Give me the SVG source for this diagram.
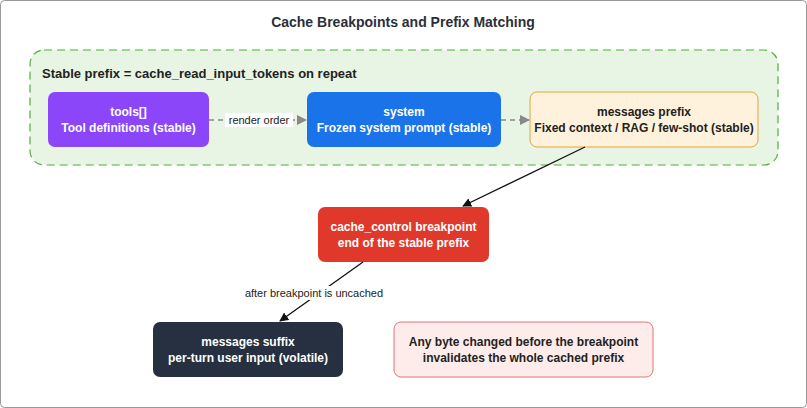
<svg xmlns="http://www.w3.org/2000/svg" width="807" height="408" viewBox="0 0 807 408">
<style>
text{font-family:"Helvetica","Liberation Sans",Arial,sans-serif;font-size:12px;font-weight:bold;text-anchor:middle}
.w{fill:#fff}
.d{fill:#222}
.lbl{font-weight:normal;font-size:11px;fill:#222}
.dash{stroke:#888;stroke-width:1.5;stroke-dasharray:5,4;fill:none}
.solid{stroke:#111;stroke-width:1.3;fill:none}
</style>
<defs>
<marker id="ag" viewBox="0 0 10 10" refX="9" refY="5" markerWidth="7" markerHeight="7" orient="auto"><path d="M0,0L10,5L0,10z" fill="#888"/></marker>
<marker id="ab" viewBox="0 0 10 10" refX="9" refY="5" markerWidth="7" markerHeight="7" orient="auto"><path d="M0,0L10,5L0,10z" fill="#111"/></marker>
</defs>
<rect x="0.5" y="0.5" width="806" height="407" rx="4" fill="#fff" stroke="#999"/>
<text x="403" y="27" style="font-size:14px;fill:#2b2f38">Cache Breakpoints and Prefix Matching</text>
<g id="stable-prefix">
<rect x="30" y="50" width="748" height="115" rx="14" fill="#e9f5e4" stroke="#4fae3d" stroke-dasharray="8,5" stroke-width="1.2"/>
<text x="42" y="78" class="d" style="text-anchor:start;font-size:13px">Stable prefix = cache_read_input_tokens on repeat</text>
</g>
<g id="tools">
<rect x="48" y="92" width="161" height="55" rx="7" fill="#8b46fa"/>
<text x="128.5" y="116" class="w">tools[]</text>
<text x="128.5" y="132" class="w">Tool definitions (stable)</text>
</g>
<g id="system">
<rect x="307" y="92" width="194" height="55" rx="7" fill="#1a73e8"/>
<text x="404" y="116" class="w">system</text>
<text x="404" y="132" class="w">Frozen system prompt (stable)</text>
</g>
<g id="messages-prefix">
<rect x="530" y="92" width="228" height="55" rx="7" fill="#fff2dc" stroke="#e5a43a"/>
<text x="644" y="116" class="d">messages prefix</text>
<text x="644" y="132" class="d">Fixed context / RAG / few-shot (stable)</text>
</g>
<g id="breakpoint">
<rect x="318" y="207" width="171" height="55" rx="7" fill="#e0392b"/>
<text x="403.5" y="231" class="w">cache_control breakpoint</text>
<text x="403.5" y="247" class="w">end of the stable prefix</text>
</g>
<g id="messages-suffix">
<rect x="153" y="322" width="190" height="55" rx="7" fill="#263040"/>
<text x="248" y="346" class="w">messages suffix</text>
<text x="248" y="362" class="w">per-turn user input (volatile)</text>
</g>
<g id="note">
<rect x="394" y="322" width="259" height="55" rx="7" fill="#fdecea" stroke="#e57373"/>
<text x="523.5" y="346" class="d">Any byte changed before the breakpoint</text>
<text x="523.5" y="362" class="d">invalidates the whole cached prefix</text>
</g>
<g id="connectors">
<line x1="209" y1="120" x2="306" y2="120" class="dash" marker-end="url(#ag)"/>
<rect x="225" y="113" width="68" height="14" fill="#fff"/>
<text x="259" y="124" class="lbl">render order</text>
<line x1="501" y1="120" x2="529" y2="120" class="dash" marker-end="url(#ag)"/>
<line x1="585" y1="147" x2="463" y2="206" class="solid" marker-end="url(#ab)"/>
<line x1="363" y1="262" x2="280" y2="321" class="solid" marker-end="url(#ab)"/>
<rect x="252" y="286" width="124" height="14" fill="#fff"/>
<text x="314" y="297" class="lbl">after breakpoint is uncached</text>
</g>
</svg>
